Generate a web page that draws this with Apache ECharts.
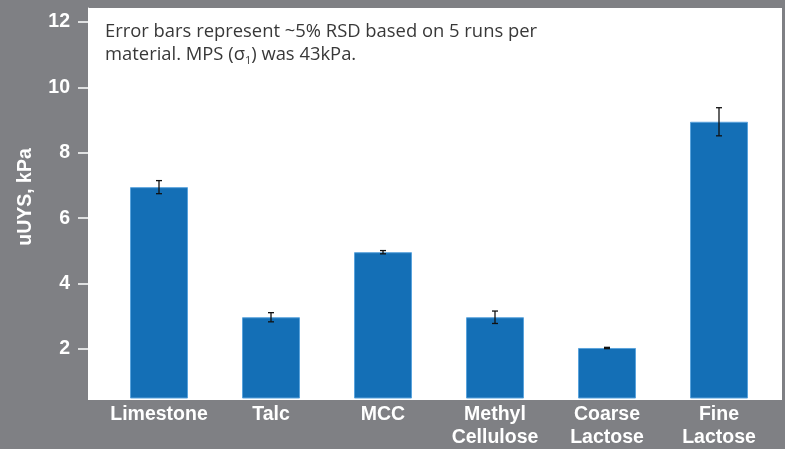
<!DOCTYPE html>
<html><head><meta charset="utf-8">
<script src="https://cdn.jsdelivr.net/npm/echarts@6/dist/echarts.min.js"></script>
<style>html,body{margin:0;padding:0;background:#7f8084;}#c{width:785px;height:449px;}</style>
</head><body><div id="c"></div>
<script>
const categories = ['Limestone', 'Talc', 'MCC', 'Methyl\nCellulose', 'Coarse\nLactose', 'Fine\nLactose'];
const values = [6.95, 2.97, 4.96, 2.97, 2.03, 8.95];
const errors = [0.2, 0.14, 0.05, 0.19, 0.02, 0.43];
const yTicks = [2, 4, 6, 8, 10, 12];
const yName = 'uUYS, kPa';

const errData = values.map((v, i) => [i, v - errors[i], v + errors[i]]);

const chart = echarts.init(document.getElementById('c'));
chart.setOption({
  backgroundColor: '#7f8084',
  animation: false,
  graphic: [
    { type: 'rect', z: -10, shape: { x: 88, y: 8, width: 694, height: 392 }, style: { fill: '#ffffff' }, silent: true },
    { type: 'text', left: 105, top: 23, z: 10,
      style: {
        text: '{a|Error bars represent ~5% RSD based on 5 runs per}\n{a|material. MPS (σ}{s|1}{a|) was 43kPa.}',
        rich: {
          a: { fontFamily: 'Open Sans, Liberation Sans, sans-serif', fontSize: 18.4, fill: '#383838', lineHeight: 23 },
          s: { fontFamily: 'Open Sans, Liberation Sans, sans-serif', fontSize: 11, fill: '#383838', lineHeight: 23, verticalAlign: 'bottom', padding: [9, 0, 0, 0] }
        }
      } }
  ],
  grid: { left: 103, right: 10, top: 8, bottom: 49, containLabel: false },
  xAxis: {
    type: 'category', data: categories,
    axisLine: { show: false }, axisTick: { show: false },
    axisLabel: { color: '#ffffff', fontWeight: 'bold', fontSize: 19.5, lineHeight: 23, margin: 5, interval: 0,
      fontFamily: 'Liberation Sans, Arial, sans-serif' }
  },
  yAxis: {
    type: 'value', min: 0.5, max: 12.43, offset: 15,
    name: yName, nameLocation: 'middle', nameGap: 52, nameRotate: 90,
    nameTextStyle: { color: '#ffffff', fontWeight: 'bold', fontSize: 19.5, padding: [0, 0, 0, 12],
      fontFamily: 'Liberation Sans, Arial, sans-serif' },
    splitLine: { show: false },
    axisLine: { show: true, lineStyle: { color: '#ffffff', width: 1 } },
    axisTick: { show: true, length: 10, inside: false, customValues: yTicks, lineStyle: { color: '#ffffff', width: 1.5 } },
    axisLabel: { color: '#ffffff', fontWeight: 'bold', fontSize: 19.5, margin: 18, customValues: yTicks,
      fontFamily: 'Liberation Sans, Arial, sans-serif' }
  },
  series: [
    { type: 'bar', data: values, barWidth: 58,
      itemStyle: { color: '#146fb6', borderColor: '#5aa3dc', borderWidth: 1 } },
    { type: 'custom', data: errData, z: 5,
      renderItem: function (params, api) {
        const x = api.value(0);
        const lo = api.coord([x, api.value(1)]);
        const hi = api.coord([x, api.value(2)]);
        const cw = 3;
        const st = { stroke: '#111111', lineWidth: 1.3 };
        return { type: 'group', children: [
          { type: 'line', shape: { x1: hi[0], y1: hi[1], x2: lo[0], y2: lo[1] }, style: st },
          { type: 'line', shape: { x1: hi[0] - cw, y1: hi[1], x2: hi[0] + cw, y2: hi[1] }, style: st },
          { type: 'line', shape: { x1: lo[0] - cw, y1: lo[1], x2: lo[0] + cw, y2: lo[1] }, style: st }
        ] };
      } }
  ]
});
</script></body></html>
